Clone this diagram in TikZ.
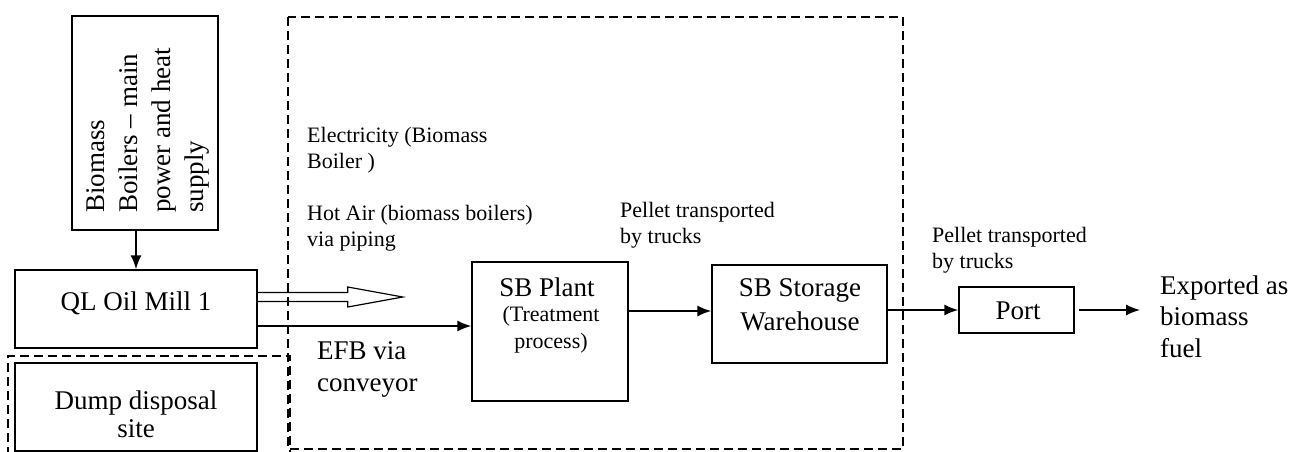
\documentclass[tikz,border=0pt]{standalone}
\usepackage{fontspec}
\setmainfont{Liberation Serif}
\usetikzlibrary{arrows.meta}
\tikzset{
  procbox/.style={draw, line width=1.5pt, inner sep=0pt},
  bigtxt/.style={font=\fontsize{27}{31}\selectfont, inner sep=0pt, align=center},
  midtxt/.style={font=\fontsize{22}{27}\selectfont, inner sep=0pt, align=center},
  lbl/.style={font=\fontsize{22}{26}\selectfont, inner sep=0pt, align=left, anchor=west},
  arr/.style={line width=1.5pt, -{Latex[length=14pt,width=11pt]}},
  zone/.style={draw, line width=1.4pt, dash pattern=on 9pt off 5pt}
}
\begin{document}
\begin{tikzpicture}[x=1pt,y=-1pt]
\useasboundingbox (0,0) rectangle (1290,452);
% zones
\draw[zone] (288,17) rectangle (903,449);
\draw[zone] (8,470) -- (8,356) -- (290,356) -- (290,470);
% boxes
\node[procbox, minimum width=146pt, minimum height=214pt] (boiler) at (145,123) {};
\node[font=\fontsize{27}{33}\selectfont, inner sep=0pt, align=left, rotate=90, anchor=west] (boilertxt) at (148,213) {Biomass\\Boilers -- main\\power and heat\\supply};
\node[procbox, minimum width=242pt, minimum height=78pt] (ql) at (136,309) {};
\node[bigtxt] (qltxt) at (136,303) {QL Oil Mill 1};
\node[procbox, minimum width=242pt, minimum height=88pt] (dump) at (136,407) {};
\node[bigtxt, font=\fontsize{27}{28}\selectfont] (dumptxt) at (136,414) {Dump disposal\\site};
\node[procbox, minimum width=156pt, minimum height=139pt] (sbp) at (550,331.5) {};
\node[bigtxt] (sbptxt) at (547,287) {SB Plant};
\node[midtxt] (sbpsub) at (551,329.5) {(Treatment\\process)};
\node[procbox, minimum width=175pt, minimum height=98pt] (wh) at (799.5,314) {};
\node[bigtxt, font=\fontsize{27}{34}\selectfont] (whtxt) at (800,305) {SB Storage\\Warehouse};
\node[procbox, minimum width=115pt, minimum height=46pt] (port) at (1016.5,310) {};
\node[bigtxt] (porttxt) at (1018,311) {Port};
\node[bigtxt, align=left, anchor=west, font=\fontsize{27}{31.5}\selectfont] (exp) at (1160,316.5) {Exported as\\biomass\\fuel};
% labels
\node[lbl] (elec) at (307,150.5) {Electricity (Biomass\\Boiler )};
\node[lbl] (hot) at (307,228.5) {Hot Air (biomass boilers)\\via piping};
\node[lbl] (pel1) at (620,225) {Pellet transported\\by trucks};
\node[lbl] (pel2) at (932,250) {Pellet transported\\by trucks};
\node[lbl, font=\fontsize{27}{32}\selectfont] (efb) at (317,369) {EFB via\\conveyor};
% connectors
\draw[arr] (boiler.south -| ql.north) -- (ql.north);
\coordinate (efbstart) at ([yshift=-17pt]ql.east);
\draw[arr] (efbstart) -- (efbstart -| sbp.west);
\coordinate (hotstart) at ([yshift=12pt]ql.east);
\draw[line width=1.2pt, line join=miter] (hotstart) +(0,-4.5) -- +(90,-4.5) -- +(90,-10) -- +(145,0) -- +(90,10) -- +(90,4.5) -- +(0,4.5);
\coordinate (pelstart) at ([yshift=20.5pt]sbp.east);
\draw[arr] (pelstart) -- (pelstart -| wh.west);
\draw[arr] (wh.east |- port.west) -- (port.west);
\coordinate (expend) at ([xshift=-20pt]exp.west |- port.east);
\draw[arr] ([xshift=4pt]port.east) -- (expend);
\end{tikzpicture}
\end{document}
